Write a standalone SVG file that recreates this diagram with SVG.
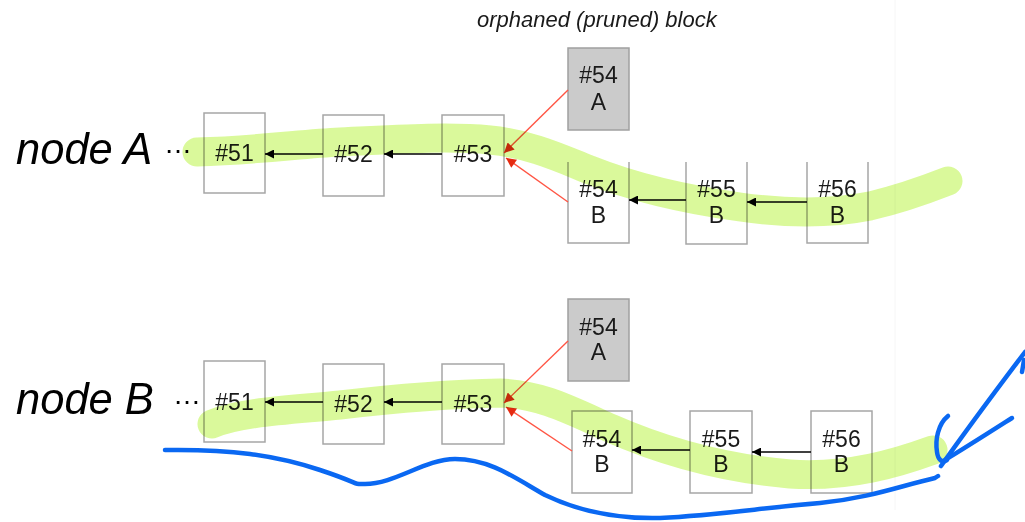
<svg xmlns="http://www.w3.org/2000/svg" width="1025" height="522" viewBox="0 0 1025 522">
  <defs>
    <style>
      .blk { fill: #ffffff; stroke: #a6a6a6; stroke-width: 1.5; }
      .open { fill: none; stroke: #a6a6a6; stroke-width: 1.5; }
      .orph { fill: #cbcbcb; stroke: #a0a0a0; stroke-width: 1.5; }
      .lbl { font-family: "Liberation Sans", Arial, sans-serif; font-size: 23px; fill: #1a1a1a; text-anchor: middle; }
      .node { font-family: "Liberation Sans", Arial, sans-serif; font-size: 43.5px; font-style: italic; fill: #000000; }
      .dots { font-family: "Liberation Sans", Arial, sans-serif; font-size: 28px; fill: #000000; }
      .cap { font-family: "Liberation Sans", Arial, sans-serif; font-size: 22px; font-style: italic; fill: #1a1a1a; }
      .link { stroke: #000000; stroke-width: 1.4; fill: none; marker-end: url(#headBlack); }
      .fork { stroke: #ff5544; stroke-width: 1.4; fill: none; marker-end: url(#headRed); }
      .marker { fill: none; stroke: #d6f990; stroke-width: 29; stroke-linecap: round; stroke-linejoin: round; mix-blend-mode: multiply; opacity: 0.9; }
      .pen { fill: none; stroke: #0a68f2; stroke-width: 4.5; stroke-linecap: round; stroke-linejoin: round; }
    </style>
    <marker id="headBlack" viewBox="0 0 10 10" refX="10" refY="5" markerWidth="10" markerHeight="9" markerUnits="userSpaceOnUse" orient="auto">
      <path d="M0,0 L10,5 L0,10 z" fill="#000000"/>
    </marker>
    <marker id="headRed" viewBox="0 0 10 10" refX="10" refY="5" markerWidth="11" markerHeight="10" markerUnits="userSpaceOnUse" orient="auto">
      <path d="M0,0 L10,5 L0,10 z" fill="#e52a10"/>
    </marker>
  </defs>

  <rect width="1025" height="522" fill="#ffffff"/>
  <!-- faint slide edge -->
  <line x1="895" y1="0" x2="895" y2="510" stroke="#f6f6f6" stroke-width="1"/>

  <text class="cap" x="477" y="27">orphaned (pruned) block</text>

  <!-- chain held by node A -->
  <text class="node" x="16" y="164">node A</text>
  <text class="dots" x="164" y="153">…</text>

  <g id="a51"><rect class="blk" x="204" y="113" width="61" height="80"/><text class="lbl" x="234.5" y="161">#51</text></g>
  <g id="a52"><rect class="blk" x="323" y="115" width="61" height="81"/><text class="lbl" x="353.5" y="162">#52</text></g>
  <g id="a53"><rect class="blk" x="442" y="115" width="62" height="81"/><text class="lbl" x="473" y="162">#53</text></g>
  <g id="a54a"><rect class="orph" x="568" y="48" width="61" height="82"/><text class="lbl" x="598.5" y="83">#54</text><text class="lbl" x="598.5" y="110">A</text></g>
  <g id="a54b"><path class="open" d="M568,162 V243 H629 V162"/><text class="lbl" x="598.5" y="197">#54</text><text class="lbl" x="598.5" y="223">B</text></g>
  <g id="a55b"><path class="open" d="M686,162 V244 H747 V162"/><text class="lbl" x="716.5" y="197">#55</text><text class="lbl" x="716.5" y="223">B</text></g>
  <g id="a56b"><path class="open" d="M807,162 V243 H868 V162"/><text class="lbl" x="837.5" y="197">#56</text><text class="lbl" x="837.5" y="223">B</text></g>

  <!-- chain held by node B -->
  <text class="node" x="16" y="414">node B</text>
  <text class="dots" x="173" y="404">…</text>

  <g id="b51"><rect class="blk" x="204" y="361" width="61" height="81"/><text class="lbl" x="234.5" y="410">#51</text></g>
  <g id="b52"><rect class="blk" x="323" y="364" width="61" height="80"/><text class="lbl" x="353.5" y="412">#52</text></g>
  <g id="b53"><rect class="blk" x="442" y="364" width="62" height="80"/><text class="lbl" x="473" y="412">#53</text></g>
  <g id="b54a"><rect class="orph" x="568" y="299" width="61" height="82"/><text class="lbl" x="598.5" y="335">#54</text><text class="lbl" x="598.5" y="360">A</text></g>
  <g id="b54b"><rect class="blk" x="572" y="411" width="60" height="82"/><text class="lbl" x="602" y="447">#54</text><text class="lbl" x="602" y="472">B</text></g>
  <g id="b55b"><rect class="blk" x="690" y="411" width="62" height="82"/><text class="lbl" x="721" y="447">#55</text><text class="lbl" x="721" y="472">B</text></g>
  <g id="b56b"><rect class="blk" x="811" y="411" width="61" height="82"/><text class="lbl" x="841.5" y="447">#56</text><text class="lbl" x="841.5" y="472">B</text></g>

  <!-- parent links -->
  <g id="connectors">
    <line class="link" x1="323" y1="154" x2="265" y2="154"/>
    <line class="link" x1="442" y1="154" x2="384" y2="154"/>
    <line class="link" x1="686" y1="200" x2="629" y2="200"/>
    <line class="link" x1="807" y1="202" x2="747" y2="202"/>
    <line class="fork" x1="568" y1="90" x2="504" y2="153"/>
    <line class="fork" x1="568" y1="202" x2="506" y2="158"/>

    <line class="link" x1="323" y1="402" x2="265" y2="402"/>
    <line class="link" x1="442" y1="402" x2="384" y2="402"/>
    <line class="link" x1="690" y1="450" x2="632" y2="450"/>
    <line class="link" x1="811" y1="452" x2="752" y2="452"/>
    <line class="fork" x1="568" y1="341" x2="504" y2="403"/>
    <line class="fork" x1="572" y1="451" x2="506" y2="407"/>
  </g>

  <!-- highlighter strokes over the longest chain -->
  <path class="marker" d="M197,152 C260,150 300,144 340,142 C400,139 450,136 490,140 C530,144 560,158 590,170 C640,190 690,200 740,207 C790,214 830,214 870,206 C900,199 925,190 948,181"/>
  <path class="marker" d="M212,424 C240,412 290,410 340,405 C400,398 450,394 500,393 C540,394 570,410 610,428 C660,450 720,468 790,474 C850,478 900,462 933,450"/>

  <!-- pen annotations -->
  <path class="pen" d="M165,450 C230,449 275,455 320,470 S350,484 365,484 C395,484 425,459 455,459 C490,459 515,478 545,495 C580,512 620,519 660,518 C720,515 760,508 820,503 C870,498 900,486 935,478 L938,476"/>
  <path class="pen" d="M1025,352 C1000,385 970,425 941,466"/>
  <path class="pen" d="M1024,360 L1022,372"/>
  <path class="pen" d="M948,416 C938,424 935,440 937,452 C938,460 942,463 947,460"/>
  <path class="pen" d="M1012,418 C990,432 965,448 945,460"/>
</svg>
